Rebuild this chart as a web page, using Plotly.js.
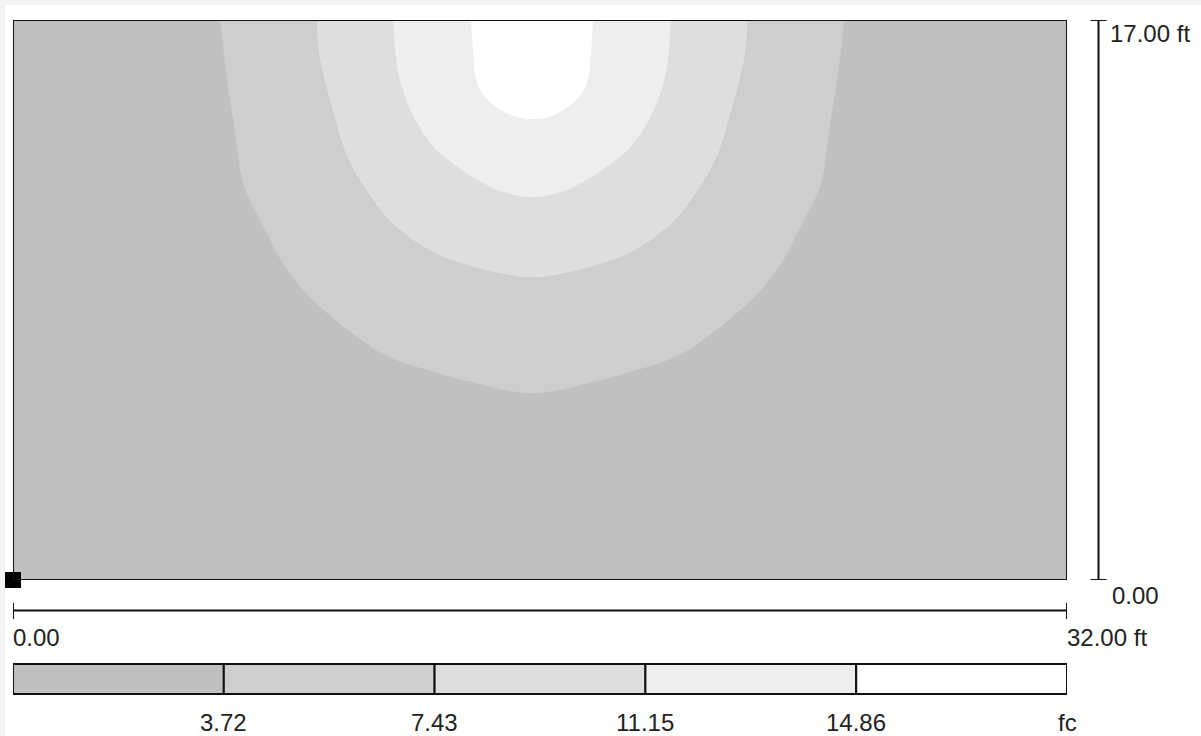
<!DOCTYPE html>
<html><head><meta charset="utf-8">
<script src="https://cdn.plot.ly/plotly-3.0.1.min.js"></script>
<style>
html,body{margin:0;padding:0;background:#f2f3f5;width:1201px;height:736px;overflow:hidden;}
#panel{position:absolute;left:5px;top:5px;width:1196px;height:731px;background:#ffffff;}
#chart{position:absolute;left:0;top:0;width:1201px;height:736px;}
</style></head><body><div id="panel"></div><div id="chart"></div>
<script>
// Sample positions (ft)
const xFt = [0, 1.76, 3.76, 5.76, 6.76, 7.76, 8.76, 9.76, 10.76, 11.76, 12.76, 13.76, 14.76, 15.76, 16.76, 17.76, 18.76, 19.76, 20.76, 21.76, 22.76, 23.76, 24.76, 25.76, 27.76, 29.76, 32];
const yFt = [0, 3, 5, 6, 7, 8, 9, 10, 11, 12, 13, 14, 15, 16, 17];

// Illuminance (fc) per row
const fc_y0  = [1.42, 1.52, 1.62, 1.72, 1.78, 1.84, 1.90, 1.96, 2.02, 2.07, 2.12, 2.16, 2.19, 2.20, 2.19, 2.16, 2.12, 2.07, 2.02, 1.96, 1.90, 1.84, 1.78, 1.72, 1.62, 1.52, 1.42];
const fc_y3  = [1.46, 1.58, 1.72, 1.88, 1.97, 2.05, 2.15, 2.25, 2.35, 2.45, 2.55, 2.62, 2.68, 2.70, 2.68, 2.62, 2.55, 2.45, 2.35, 2.25, 2.15, 2.05, 1.97, 1.88, 1.72, 1.58, 1.46];
const fc_y5  = [1.44, 1.56, 1.72, 1.92, 2.02, 2.14, 2.28, 2.42, 2.58, 2.70, 2.82, 2.92, 3.02, 3.20, 3.02, 2.92, 2.82, 2.70, 2.58, 2.42, 2.28, 2.14, 2.02, 1.92, 1.72, 1.56, 1.44];
const fc_y6  = [1.45, 1.58, 1.75, 1.95, 2.07, 2.20, 2.36, 2.55, 2.78, 3.02, 3.35, 3.67, 3.89, 3.98, 3.89, 3.67, 3.35, 3.02, 2.78, 2.55, 2.36, 2.20, 2.07, 1.95, 1.75, 1.58, 1.45];
const fc_y7  = [1.45, 1.55, 1.72, 1.98, 2.20, 2.42, 2.70, 3.08, 3.60, 4.13, 4.50, 4.75, 4.98, 5.09, 4.98, 4.75, 4.50, 4.13, 3.60, 3.08, 2.70, 2.42, 2.20, 1.98, 1.72, 1.55, 1.45];
const fc_y8  = [1.50, 1.61, 1.87, 2.23, 2.48, 2.79, 3.18, 3.78, 4.35, 4.85, 5.30, 5.70, 6.00, 6.12, 6.00, 5.70, 5.30, 4.85, 4.35, 3.78, 3.18, 2.79, 2.48, 2.23, 1.87, 1.61, 1.50];
const fc_y9  = [1.55, 1.71, 2.02, 2.48, 2.80, 3.20, 3.80, 4.50, 5.10, 5.65, 6.15, 6.60, 6.95, 7.16, 6.95, 6.60, 6.15, 5.65, 5.10, 4.50, 3.80, 3.20, 2.80, 2.48, 2.02, 1.71, 1.55];
const fc_y10 = [1.59, 1.81, 2.14, 2.55, 3.05, 3.56, 4.33, 5.15, 5.96, 6.78, 7.50, 8.05, 8.45, 8.59, 8.45, 8.05, 7.50, 6.78, 5.96, 5.15, 4.33, 3.56, 3.05, 2.55, 2.14, 1.81, 1.59];
const fc_y11 = [1.62, 1.88, 2.25, 2.62, 3.25, 3.92, 4.90, 5.88, 6.88, 7.83, 8.70, 9.40, 9.95, 10.16, 9.95, 9.40, 8.70, 7.83, 6.88, 5.88, 4.90, 3.92, 3.25, 2.62, 2.25, 1.88, 1.62];
const fc_y12 = [1.67, 1.96, 2.36, 2.68, 3.50, 4.41, 5.47, 6.53, 7.58, 8.57, 9.56, 10.73, 11.40, 11.74, 11.40, 10.73, 9.56, 8.57, 7.58, 6.53, 5.47, 4.41, 3.50, 2.68, 2.36, 1.96, 1.67];
const fc_y13 = [1.69, 1.98, 2.42, 2.72, 3.65, 4.73, 5.87, 7.01, 8.29, 9.65, 11.01, 11.90, 12.60, 13.33, 12.60, 11.90, 11.01, 9.65, 8.29, 7.01, 5.87, 4.73, 3.65, 2.72, 2.42, 1.98, 1.69];
const fc_y14 = [1.71, 2.01, 2.47, 2.75, 3.80, 5.00, 6.20, 7.39, 8.99, 10.59, 11.87, 13.50, 14.62, 14.91, 14.62, 13.50, 11.87, 10.59, 8.99, 7.39, 6.20, 5.00, 3.80, 2.75, 2.47, 2.01, 1.71];
const fc_y15 = [1.73, 2.04, 2.52, 2.85, 3.99, 5.22, 6.45, 7.76, 9.43, 11.10, 12.69, 14.53, 15.42, 16.30, 15.42, 14.53, 12.69, 11.10, 9.43, 7.76, 6.45, 5.22, 3.99, 2.85, 2.52, 2.04, 1.73];
const fc_y16 = [1.75, 2.07, 2.55, 2.95, 4.16, 5.42, 6.68, 8.09, 9.75, 11.39, 12.98, 14.57, 15.91, 17.20, 15.91, 14.57, 12.98, 11.39, 9.75, 8.09, 6.68, 5.42, 4.16, 2.95, 2.55, 2.07, 1.75];
const fc_y17 = [1.77, 2.09, 2.60, 3.07, 4.30, 5.54, 6.77, 8.21, 9.86, 11.50, 13.07, 14.64, 16.08, 17.50, 16.08, 14.64, 13.07, 11.50, 9.86, 8.21, 6.77, 5.54, 4.30, 3.07, 2.60, 2.09, 1.77];

// Contour levels and legend
const fcLevels = [3.72, 7.43, 11.15, 14.86];
const bandColors = ['#c0c0c0', '#cecece', '#dedede', '#eeeeee', '#ffffff'];
const legendLabels = ['3.72', '7.43', '11.15', '14.86', 'fc'];
const roomWidth = 32, roomDepth = 17;
const scaleLabels = {top: '17.00 ft', yZero: '0.00', xZero: '0.00', right: '32.00 ft'};

const zGrid = [fc_y0, fc_y3, fc_y5, fc_y6, fc_y7, fc_y8, fc_y9, fc_y10, fc_y11, fc_y12, fc_y13, fc_y14, fc_y15, fc_y16, fc_y17];

// pixel helpers (plot area 13..1067 x 20..580)
const PL = 13, PR = 1067, PT = 20, PB = 580;
const px = v => (v - PL) / (PR - PL);
const py = v => (PB - v) / (PB - PT);

const nL = fcLevels.length;
const step = (fcLevels[nL - 1] - fcLevels[0]) / (nL - 1);
const colorscale = bandColors.map((c, i) => [i / (bandColors.length - 1), c]);

const contour = {
  type: 'contour', x: xFt, y: yFt, z: zGrid,
  autocontour: false,
  contours: {start: fcLevels[0], end: fcLevels[nL - 1] + 0.001, size: step, coloring: 'fill', showlines: false},
  line: {width: 0, smoothing: 1.2},
  colorscale: colorscale, showscale: false, hoverinfo: 'skip'
};
const corner = {
  type: 'scatter', mode: 'markers', x: [0], y: [0],
  marker: {symbol: 'square', size: 16, color: '#000', line: {width: 0}},
  cliponaxis: false, hoverinfo: 'skip', showlegend: false
};

const lineStyle = {color: '#111', width: 2};
const shapes = [
  {type: 'rect', xref: 'x', yref: 'y', x0: 0, x1: roomWidth, y0: 0, y1: roomDepth, line: lineStyle, layer: 'above'},
  // vertical scale bar
  {type: 'line', xref: 'paper', yref: 'y', x0: px(1098.5), x1: px(1098.5), y0: 0, y1: roomDepth, line: lineStyle},
  {type: 'line', xref: 'paper', yref: 'y', x0: px(1090.5), x1: px(1106.5), y0: roomDepth, y1: roomDepth, line: lineStyle},
  {type: 'line', xref: 'paper', yref: 'y', x0: px(1090.5), x1: px(1106.5), y0: 0, y1: 0, line: lineStyle},
  // horizontal scale bar
  {type: 'line', xref: 'x', yref: 'paper', x0: 0, x1: roomWidth, y0: py(610.5), y1: py(610.5), line: lineStyle},
  {type: 'line', xref: 'x', yref: 'paper', x0: 0, x1: 0, y0: py(603), y1: py(619), line: lineStyle},
  {type: 'line', xref: 'x', yref: 'paper', x0: roomWidth, x1: roomWidth, y0: py(603), y1: py(619), line: lineStyle}
];
const boxW = roomWidth / bandColors.length;
bandColors.forEach((c, i) => {
  shapes.push({type: 'rect', xref: 'x', yref: 'paper', x0: i * boxW, x1: (i + 1) * boxW,
    y0: py(694), y1: py(664), fillcolor: c, line: lineStyle});
});

const font = {family: 'Liberation Sans, Arial, sans-serif', size: 24, color: '#222'};
const ann = (text, x, y, xanchor, xref) => ({text, x, y, xref: xref || 'paper', yref: 'paper',
  xanchor, yanchor: 'middle', showarrow: false, font});
const annotations = [
  ann(scaleLabels.top, px(1108), py(33), 'left'),
  ann(scaleLabels.yZero, px(1109.5), py(595), 'left'),
  ann(scaleLabels.xZero, px(11), py(637), 'left'),
  ann(scaleLabels.right, px(1065), py(637.5), 'left')
];
legendLabels.forEach((t, i) => {
  annotations.push(ann(t, (i + 1) * boxW, py(722), 'center', 'x'));
});

const layout = {
  width: 1201, height: 736, autosize: false,
  margin: {l: PL, r: 1201 - PR, t: PT, b: 736 - PB, pad: 0},
  paper_bgcolor: 'rgba(0,0,0,0)', plot_bgcolor: 'rgba(0,0,0,0)',
  showlegend: false,
  xaxis: {range: [0, roomWidth], visible: false, fixedrange: true},
  yaxis: {range: [0, roomDepth], visible: false, fixedrange: true},
  shapes, annotations
};
Plotly.newPlot('chart', [contour, corner], layout, {staticPlot: true, displayModeBar: false});
</script></body></html>
